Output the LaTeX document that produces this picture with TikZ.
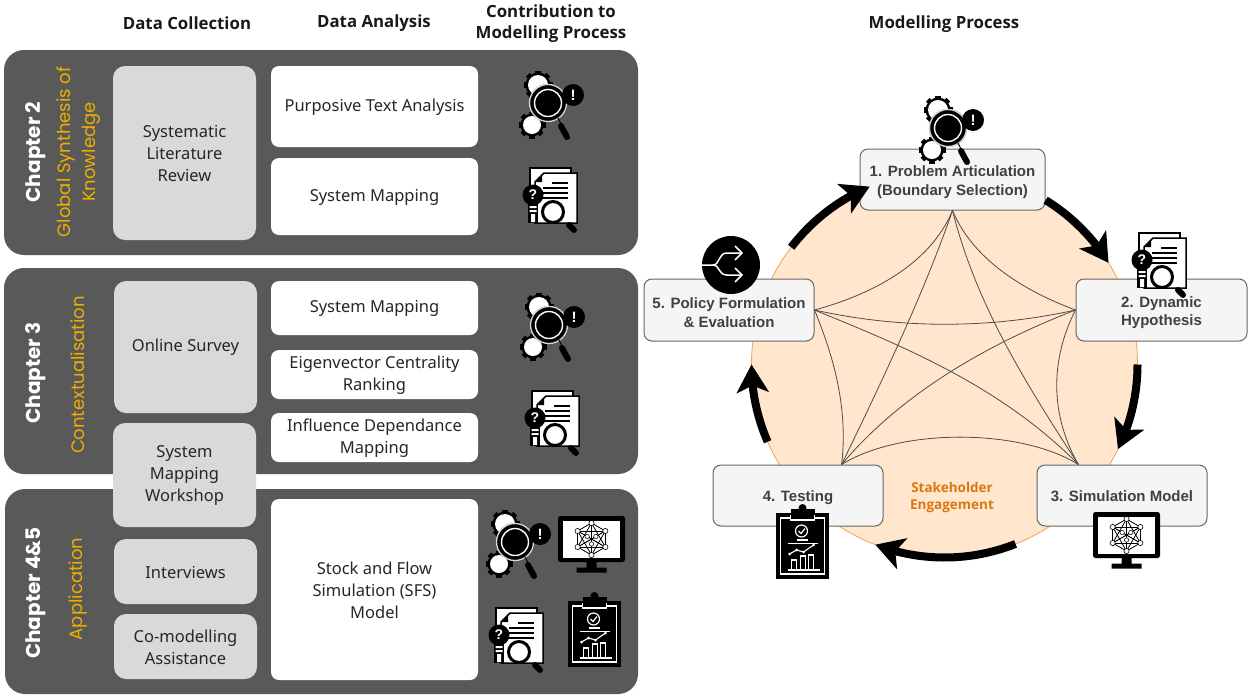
\documentclass[tikz,border=0pt]{standalone}
\usepackage{fontspec}
\setmainfont{Noto Sans}
\newfontfamily\arialf{Liberation Sans}
\newfontfamily\popf{Poppins}
\newfontfamily\openf{Open Sans}
\usetikzlibrary{arrows.meta,bending,calc}
\definecolor{panelc}{HTML}{595959}
\definecolor{greyc}{HTML}{D9D9D9}
\definecolor{goldc}{HTML}{EDAE00}
\definecolor{peach}{HTML}{FFE6CC}
\definecolor{peachl}{HTML}{EDA35F}
\definecolor{stepc}{HTML}{F5F5F5}
\definecolor{stepl}{HTML}{666666}
\definecolor{labc}{HTML}{404040}
\definecolor{engc}{HTML}{D9780F}
\definecolor{meshc}{HTML}{4D4D4D}
\newcommand\fs[2]{\fontsize{#1pt}{#2pt}\selectfont}
\newcommand\rbx[7][]{%
  \pgfmathsetmacro\bw{#5-#3}\pgfmathsetmacro\bh{#6-#4}%
  \pgfmathsetmacro\bcx{(#5+#3)/2}\pgfmathsetmacro\bcy{(#6+#4)/2}%
  \node[#1,minimum width=\bw pt,minimum height=\bh pt,label={[boxtext]center:#7}] (#2) at (\bcx,\bcy) {};}
\newcommand\gearshape[3]{%
  \fill[black] (#1,#2) circle[radius=#3-2];
  \foreach \a in {0,45,...,315}{\fill[black,shift={(#1,#2)},rotate=\a] (-2.6,-#3) rectangle (2.6,0);}
  \fill[white] (#1,#2) circle[radius=#3-4.5];}
\tikzset{
  boxtext/.style={inner sep=0pt,align=center,font=\fs{16.5}{22},text=black!85,yshift=-.7pt},
  panel/.style={fill=panelc,draw=none,rounded corners=20pt,inner sep=0pt},
  greybox/.style={fill=greyc,draw=none,rounded corners=12pt,inner sep=0pt},
  whitebox/.style={fill=white,draw=none,rounded corners=8pt,inner sep=0pt},
  stepbox/.style={fill=stepc,draw=stepl,line width=1pt,rounded corners=8pt,inner sep=0pt},
  steptext/.style={inner sep=0pt,align=center,font=\arialf\bfseries\fs{15}{18.5},text=labc},
  headtext/.style={font=\openf\bfseries\fs{16.8}{21},align=center,inner sep=0pt,text=black!90},
  chaptext/.style={font=\popf\bfseries\fs{20}{24},text=white,rotate=90,inner sep=0pt},
  subtext/.style={font=\popf\fs{18}{25},text=goldc,rotate=90,inner sep=0pt,align=center},
  mesh/.style={draw=meshc,line width=.8pt},
  cycle/.style={line width=8pt,line cap=butt,-{Stealth[length=28pt,width=32pt,inset=7pt,flex=0.8]}},
  pics/lensicon/.style={code={
    \gearshape{-10}{-18}{14.5}
    \gearshape{-16}{22}{13.5}
    \fill[black] (0,0) circle[radius=19];
    \draw[white!85!black,line width=1.3pt] (0,0) circle[radius=18.5];
    \draw[white,line width=1.4pt] (0,0) circle[radius=13.5];
    \draw[black,line width=1pt] (10,15) -- (13,21);
    \draw[black,line width=6pt,line cap=round] (13,23) -- (19,34);
    \fill[black] (25,-8) circle[radius=11];
    \node[font=\arialf\bfseries\fs{15}{18},text=white,inner sep=0pt] (bang) at (25,-8) {!};
  }},
  pics/docicon/.style={code={
    \draw[black,fill=white,line width=1.5pt] (-26,-30) rectangle (15,20);
    \draw[black,fill=white,line width=1.5pt] (-12,-25) -- (21,-25) -- (21,25) -- (-21,25) -- (-21,-16) -- cycle;
    \fill[black] (-14,-23) -- (-14,-16) -- (-20,-16) -- cycle;
    \draw[black,line width=1.6pt] (-4,-15) -- (12,-15) (-13,-10) -- (12,-10) (-13,-5) -- (12,-5) (-13,0) -- (12,0);
    \fill[black] (-28,6) rectangle (-18,25);
    \fill[white] (-26.5,8) rectangle (-19.5,10) (-26.5,12) rectangle (-19.5,14) (-25,16) rectangle (-21,24);
    \fill[black] (-23,-3) circle[radius=10.5];
    \node[font=\arialf\bfseries\fs{14}{17},text=white,inner sep=0pt] (qm) at (-23,-3) {?};
    \draw[black,fill=white,line width=3pt] (-3,14) circle[radius=10.5];
    \draw[black,line width=6pt,line cap=round] (13,27) -- (18,32);
  }},
  pics/screenicon/.style={code={
    \fill[black,rounded corners=2.5pt] (-33.5,-23) rectangle (33.5,23);
    \fill[white] (-28.5,-18.5) rectangle (28.5,18.5);
    \fill[black] (-5,23) rectangle (5,29) (-15,28.5) rectangle (15,33.5);
    \foreach \a in {90,150,210,270,330,30}{
      \foreach \b in {90,150,210,270,330,30}{\draw[black,line width=.5pt] (\a:16) -- (\b:16);}
      \draw[black,line width=.5pt] (0,0) -- (\a:16);
    }
    \foreach \a in {90,150,210,270,330,30}{\draw[black,fill=white,line width=.6pt] (\a:16) circle[radius=2.6];}
    \foreach \a in {90,210,330}{\draw[black,fill=white,line width=.5pt] (\a:5) circle[radius=2.2];}
  }},
  pics/clipicon/.style={code={
    \fill[black] (-26.5,-33) rectangle (26.5,33);
    \draw[white,line width=1.1pt] (-22,-28) rectangle (22,28);
    \fill[black] (-12,-37) rectangle (12,-26);
    \draw[white,line width=1.1pt] (-12,-31) -- (-12,-26) -- (12,-26) -- (12,-31);
    \fill[black] (0,-38) circle[radius=4];
    \draw[white,line width=1.2pt] (-1,-15) circle[radius=6];
    \draw[white,line width=1.2pt] (-4,-15) -- (-1.5,-12.5) -- (2.5,-17.5);
    \draw[white,line width=1.2pt] (-6,-6) -- (5,-6);
    \draw[white,line width=.8pt] (-15,-3) -- (15,-3);
    \draw[white,line width=1.1pt] (-13,8) -- (-6,4) -- (1,6) -- (11,-1);
    \foreach \p in {(-13,8),(-6,4),(1,6),(11,-1)}{\fill[white] \p circle[radius=1.5];}
    \draw[white,line width=1.2pt] (-15,24) -- (17,24);
    \draw[white,line width=1.2pt] (-11,24) rectangle (-6,14) (-2,24) rectangle (3,10) (6,24) rectangle (11,9);
  }}
}
\begin{document}
\begin{tikzpicture}[x=1pt,y=-1pt]
\useasboundingbox (0,0) rectangle (1249,694);
% column headings
\node[headtext] (hdc) at (187,23) {Data Collection};
\node[headtext] (hda) at (374,23.5) {Data Analysis};
\node[headtext] (hco) at (551,24) {Contribution to\\Modelling Process};
\node[headtext] (hmp) at (944,24.5) {Modelling Process};
% panels
\rbx[panel]{p2}{4}{50}{638}{255}{}
\rbx[panel]{p3}{4}{268}{638}{474}{}
\rbx[panel]{p4}{5}{489}{638}{694}{}
% chapter labels
\node[chaptext] (c2) at (36,152) {Chapter 2};
\node[subtext] (s2) at (79,152) {Global Synthesis of\\Knowledge};
\node[chaptext] (c3) at (36,373) {Chapter 3};
\node[subtext] (s3) at (78,375) {Contextualisation};
\node[chaptext] (c4) at (36,593) {Chapter 4\&5};
\node[subtext] (s4) at (78,589) {Application};
% data collection boxes
\rbx[greybox]{slr}{113}{66}{256}{240}{Systematic\\Literature\\Review}
\rbx[greybox]{osv}{114}{281}{257}{413}{Online Survey}
\rbx[greybox]{smw}{113}{423}{256}{527}{System\\Mapping\\Workshop}
\rbx[greybox]{itv}{114}{539}{257}{604}{Interviews}
\rbx[greybox]{cma}{114}{614}{257}{679}{Co-modelling\\Assistance}
% data analysis boxes
\rbx[whitebox]{pta}{271}{66}{478}{147}{Purposive Text Analysis}
\rbx[whitebox]{sm2}{271}{158}{478}{235}{System Mapping}
\rbx[whitebox]{sm3}{271}{281}{478}{335}{System Mapping}
\rbx[whitebox]{evc}{271}{350}{478}{399}{Eigenvector Centrality\\Ranking}
\rbx[whitebox]{idm}{271}{413}{478}{462}{Influence Dependance\\Mapping}
\rbx[whitebox]{sfs}{271}{499}{478}{680}{Stock and Flow\\Simulation (SFS)\\Model}
% contribution icons
\pic (i1) at (548,103) {lensicon};
\pic (i2) at (556,198) {docicon};
\pic (i3) at (549,325) {lensicon};
\pic (i4) at (558,421) {docicon};
\pic (i5) at (515,542) {lensicon};
\pic (i6) at (591.5,539) {screenicon};
\pic (i7) at (522,638) {docicon};
\pic (i8) at (594.5,634) {clipicon};
% modelling cycle
\coordinate (cc) at (944.5,364.5);
\fill[peach] (cc) circle[radius=193pt];
\draw[peachl,line width=.8pt] (cc) circle[radius=193pt];
\rbx[stepbox]{b1}{860}{149}{1045}{210}{}
\rbx[stepbox]{b2}{1076}{279}{1247}{341}{}
\rbx[stepbox]{b3}{1037}{465}{1207}{526}{}
\rbx[stepbox]{b4}{713}{465}{883}{526}{}
\rbx[stepbox]{b5}{644}{279}{814}{341}{}
\coordinate (a3) at ($(b3.north west)!.245!(b3.north east)$);
\coordinate (a4) at ($(b4.north west)!.755!(b4.north east)$);
\draw[mesh] (b1.south) .. controls (930,265) and (870,295) .. (b5.east);
\draw[mesh] (b1.south) .. controls (975,265) and (1035,295) .. (b2.west);
\draw[mesh] (b5.east) .. controls (900,329) and (990,329) .. (b2.west);
\draw[mesh] (b1.south) .. controls (925,290) and (885,375) .. (a4);
\draw[mesh] (b1.south) .. controls (975,300) and (1020,375) .. (a3);
\draw[mesh] (b5.east) .. controls (900,345) and (1000,385) .. (a3);
\draw[mesh] (b2.west) .. controls (985,345) and (900,395) .. (a4);
\draw[mesh] (b5.east) .. controls (835,360) and (848,410) .. (a4);
\draw[mesh] (b2.west) .. controls (1050,360) and (1050,415) .. (a3);
\draw[mesh] (a4) .. controls (900,428) and (1020,428) .. (a3);
\draw[cycle] (cc) ++(142.6:193pt) arc[start angle=142.6,end angle=112.8,radius=193pt];
\draw[cycle] (cc) ++(58.4:193pt) arc[start angle=58.4,end angle=31.8,radius=193pt];
\draw[cycle] (cc) ++(0:193pt) arc[start angle=0,end angle=-26,radius=193pt];
\draw[cycle] (cc) ++(-68.4:193pt) arc[start angle=-68.4,end angle=-111,radius=193pt];
\draw[cycle] (cc) ++(203.6:193pt) arc[start angle=203.6,end angle=180,radius=193pt];
% step labels
\node[steptext] (t1) at (952.5,182) {1. Problem Articulation\\(Boundary Selection)};
\node[steptext] (t2) at (1161.5,312.5) {2. Dynamic\\Hypothesis};
\node[steptext,text height=11pt,text depth=3pt] (t3) at (1122,497) {3. Simulation Model};
\node[steptext,text height=11pt,text depth=3pt] (t4) at (798,497) {4. Testing};
\node[steptext] (t5) at (729,312.5) {5. Policy Formulation\\\& Evaluation};
\node[font=\openf\bfseries\fs{13.5}{16.5},text=engc,align=center,inner sep=0pt] (eng) at (952,497.5) {Stakeholder\\Engagement};
% step icons
\pic (j1) at (948,128) {lensicon};
\pic (j2) at (1165,263) {docicon};
\pic (j3) at (1126.5,535) {screenicon};
\pic (j4) at (802.5,546) {clipicon};
\fill[black] (731,265) circle[radius=29];
\draw[white,line width=1.5pt] (702,265) -- (713,265) .. controls (720,265) and (718,253) .. (727,253) -- (741,253);
\draw[white,line width=1.5pt] (713,265) .. controls (720,265) and (718,275) .. (727,275) -- (741,275);
\draw[white,line width=1.5pt] (735,246) -- (742,253) -- (735,260) (735,268) -- (742,275) -- (735,282);
\end{tikzpicture}
\end{document}
